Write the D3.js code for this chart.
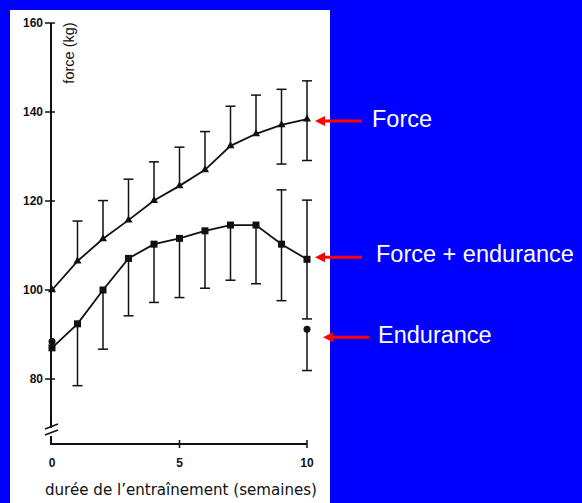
<!DOCTYPE html>
<html><head><meta charset="utf-8">
<script src="https://cdn.jsdelivr.net/npm/d3@7"></script>
<style>html,body{margin:0;padding:0;background:#0000ff;}svg{display:block;}</style>
</head><body>
<script>
const weeks = [0,1,2,3,4,5,6,7,8,9,10];
const forceMean = [100,106.5,111.5,115.7,120.1,123.4,127,132.4,135.1,137.1,138.4];
const forceUp   = [100,115.5,120.1,124.9,128.8,132.1,135.6,141.3,143.8,145.1,147.0];
const forceLow  = [null,null,null,null,null,null,null,null,null,128.3,129.1];
const feMean = [87,92.4,100,107.1,110.3,111.6,113.3,114.6,114.6,110.3,106.9];
const feUp   = [null,null,null,null,null,null,null,null,null,122.5,120.2];
const feLow  = [87,78.5,86.7,94.2,97.2,98.3,100.4,102.2,101.4,97.6,93.5];
const endWeeks = [0,10];
const endMean = [88.4,91.2];
const endLow  = [88.4,81.9];
const yTicks = [80,100,120,140,160];
const xTicks = [0,5,10];
const labels = ["Force","Force + endurance","Endurance"];
const labelValues = [138.4,106.9,91.2];

const W=582,H=503;
const svg=d3.select("body").append("svg").attr("width",W).attr("height",H);
svg.append("rect").attr("width",W).attr("height",H).attr("fill","#0000ff");
svg.append("rect").attr("x",10).attr("y",10).attr("width",320).attr("height",493).attr("fill","#ffffff");

const x=d3.scaleLinear().domain([0,10]).range([52,307]);
const y=d3.scaleLinear().domain([80,160]).range([379,23]);
const g=svg.append("g");
const ink="#111";

// y axis with break
g.append("line").attr("x1",51).attr("x2",51).attr("y1",y(160)).attr("y2",428).attr("stroke",ink).attr("stroke-width",2);
g.append("path").attr("d","M51,436 V444 H"+x(10)).attr("fill","none").attr("stroke",ink).attr("stroke-width",2);
g.append("line").attr("x1",45).attr("x2",58).attr("y1",429).attr("y2",424).attr("stroke",ink).attr("stroke-width",1.5);
g.append("line").attr("x1",45).attr("x2",58).attr("y1",435).attr("y2",430).attr("stroke",ink).attr("stroke-width",1.5);

yTicks.forEach(t=>{
  g.append("line").attr("x1",45).attr("x2",55).attr("y1",y(t)).attr("y2",y(t)).attr("stroke",ink).attr("stroke-width",1.5);
  g.append("text").attr("x",43).attr("y",y(t)).attr("dy","0.35em").attr("text-anchor","end")
   .attr("font-family","Liberation Sans, Arial, sans-serif").attr("font-weight","bold").attr("font-size",12).attr("fill",ink).text(t);
});
xTicks.forEach(t=>{
  if(t>0) g.append("line").attr("x1",x(t)).attr("x2",x(t)).attr("y1",440).attr("y2",448).attr("stroke",ink).attr("stroke-width",1.5);
  g.append("text").attr("x",x(t)).attr("y",463).attr("dy","0.35em").attr("text-anchor","middle")
   .attr("font-family","Liberation Sans, Arial, sans-serif").attr("font-weight","bold").attr("font-size",12).attr("fill",ink).text(t);
});
g.append("text").attr("x",181).attr("y",495).attr("text-anchor","middle")
 .attr("font-family","DejaVu Sans, sans-serif").attr("font-size",15.5).attr("fill",ink)
 .attr("textLength",272).attr("lengthAdjust","spacingAndGlyphs")
 .text("durée de l’entraînement (semaines)");
g.append("text").attr("transform","translate(74,53) rotate(-90)").attr("text-anchor","middle")
 .attr("font-family","Liberation Sans, Arial, sans-serif").attr("font-size",14.5).attr("fill",ink).text("force (kg)");

// error bars
function errBars(xs, mean, ext){
  xs.forEach((w,i)=>{
    const e=ext[i]; if(e==null||e===mean[i]) return;
    g.append("line").attr("x1",x(w)).attr("x2",x(w)).attr("y1",y(mean[i])).attr("y2",y(e)).attr("stroke",ink).attr("stroke-width",1.5);
    g.append("line").attr("x1",x(w)-5).attr("x2",x(w)+5).attr("y1",y(e)).attr("y2",y(e)).attr("stroke",ink).attr("stroke-width",1.5);
  });
}
errBars(weeks,forceMean,forceUp);
errBars(weeks,forceMean,forceLow);
errBars(weeks,feMean,feUp);
errBars(weeks,feMean,feLow);
errBars(endWeeks,endMean,endLow);

const line=d3.line().x((d,i)=>x(weeks[i])).y(d=>y(d));
g.append("path").attr("d",line(forceMean)).attr("fill","none").attr("stroke",ink).attr("stroke-width",1.8);
g.append("path").attr("d",line(feMean)).attr("fill","none").attr("stroke",ink).attr("stroke-width",1.8);

g.selectAll(".tri").data(forceMean).enter().append("path")
 .attr("d",d3.symbol().type(d3.symbolTriangle).size(28))
 .attr("transform",(d,i)=>`translate(${x(weeks[i])},${y(d)})`).attr("fill",ink);
g.selectAll(".sq").data(feMean).enter().append("rect")
 .attr("x",(d,i)=>x(weeks[i])-3.5).attr("y",d=>y(d)-3.5).attr("width",7).attr("height",7).attr("fill",ink);
g.selectAll(".ci").data(endMean).enter().append("circle")
 .attr("cx",(d,i)=>x(endWeeks[i])).attr("cy",d=>y(d)).attr("r",3.5).attr("fill",ink);

// arrows and labels
const red="#ff0000";
const arrowX=[[315,362],[315,362],[323,369]];
const arrowDy=[2,-2,8];
const textDy=[6,5,6];
const labelX=[372,376,378];
labels.forEach((t,i)=>{
  const yy=y(labelValues[i])+arrowDy[i];
  const [x0,x1]=arrowX[i];
  g.append("line").attr("x1",x0+8).attr("x2",x1).attr("y1",yy).attr("y2",yy).attr("stroke",red).attr("stroke-width",3);
  g.append("path").attr("d",`M${x0},${yy} L${x0+10},${yy-5} L${x0+10},${yy+5} Z`).attr("fill",red);
  svg.append("text").attr("x",labelX[i]).attr("y",yy+textDy[i]).attr("font-family","Liberation Sans, Arial, sans-serif")
   .attr("font-size",23.5).attr("fill","#ffffff").text(t);
});
</script>
</body></html>
